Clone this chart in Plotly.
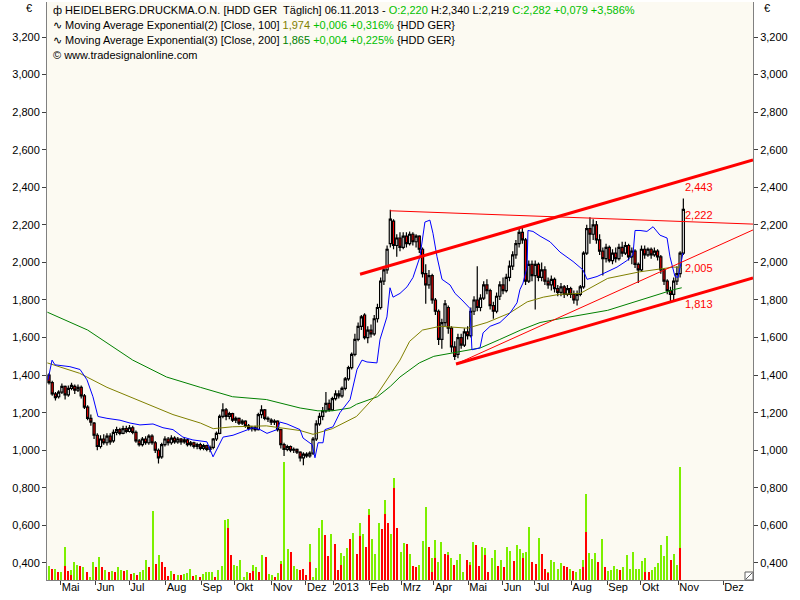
import plotly.graph_objects as go

# ---------------- data ----------------
# candles: one candle per 2 trading days, x = trading-day index
c_open = [1400,1360,1300,1285,1310,1340,1295,1330,1340,1320,1335,1290,1230,1170,1145,1080,1020,1060,1040,1075,
          1050,1095,1110,1090,1115,1100,1120,1095,1050,1030,1060,1040,1075,1040,1000,965,1030,1060,1040,1065,
          1045,1060,1045,1055,1030,1040,1020,1030,1010,1025,1005,1015,1060,1090,1180,1215,1180,1195,1160,1170,
          1145,1155,1130,1115,1120,1110,1190,1215,1170,1160,1150,1155,1110,1030,1005,1020,1000,1005,990,960,
          980,970,985,1060,1140,1180,1210,1250,1215,1275,1300,1290,1330,1380,1440,1510,1590,1660,1720,1600,
          1640,1620,1700,1760,1900,1960,2100,2220,2090,2130,2080,2140,2100,2150,2110,2140,2070,1940,1880,1930,
          1800,1740,1590,1680,1760,1650,1550,1510,1600,1560,1630,1610,1740,1800,1760,1810,1880,1850,1770,1740,
          1820,1880,1850,1920,1980,2040,2100,2160,2120,1900,1990,1930,1990,1920,1960,1900,1880,1910,1860,1840,
          1870,1830,1860,1830,1800,1830,1870,2050,2180,2150,2200,2120,2060,2020,2080,2010,2050,2020,2080,2050,
          2090,2030,2060,1990,1960,2070,2040,2070,2040,2060,2030,1960,1900,1850,1830,1900,1940,2050]
c_close = [1360,1300,1280,1310,1340,1295,1330,1345,1320,1335,1290,1230,1170,1150,1080,1020,1060,1040,1075,1045,
           1095,1110,1090,1115,1100,1120,1095,1050,1030,1060,1040,1075,1040,1000,960,1030,1060,1040,1065,1045,
           1060,1045,1055,1030,1040,1020,1030,1010,1025,1005,1015,1060,1090,1180,1215,1180,1195,1160,1170,1145,
           1155,1130,1115,1120,1110,1190,1215,1170,1165,1150,1155,1110,1030,1005,1020,1000,1005,990,960,980,
           970,985,1060,1140,1180,1210,1250,1215,1275,1300,1290,1330,1380,1440,1510,1590,1660,1710,1600,1640,
           1620,1700,1760,1900,1960,2070,2230,2090,2130,2080,2140,2100,2150,2110,2140,2070,1940,1880,1930,1800,
           1740,1590,1680,1780,1650,1550,1500,1600,1560,1630,1610,1740,1800,1760,1810,1880,1850,1770,1740,1820,
           1880,1850,1920,1980,2040,2100,2160,2120,1900,1990,1930,1990,1920,1960,1900,1880,1910,1860,1840,1870,
           1830,1860,1830,1800,1830,1870,2050,2180,2150,2200,2120,2060,2020,2080,2010,2050,2020,2080,2050,2090,
           2030,2060,1990,1960,2070,2040,2070,2040,2060,2030,1960,1900,1850,1830,1900,1940,2050,2282]
c_high = [1410,1370,1310,1320,1355,1345,1345,1360,1350,1350,1345,1300,1240,1190,1150,1090,1080,1085,1090,1090,
          1110,1125,1120,1130,1130,1135,1130,1105,1060,1070,1075,1085,1085,1050,1010,1040,1075,1070,1080,1075,
          1070,1065,1070,1060,1050,1045,1040,1040,1035,1030,1025,1065,1100,1190,1250,1225,1205,1200,1180,1175,
          1165,1160,1140,1130,1130,1200,1240,1220,1180,1170,1165,1160,1115,1040,1030,1025,1015,1010,995,990,
          990,995,1070,1160,1200,1230,1310,1270,1285,1320,1320,1340,1390,1450,1520,1620,1680,1720,1730,1660,
          1670,1720,1780,1920,1980,2090,2280,2230,2150,2160,2160,2160,2165,2160,2150,2145,2080,1990,1960,1940,
          1810,1750,1700,1800,1770,1660,1580,1620,1620,1650,1660,1760,1820,1980,1830,1900,1910,1860,1790,1840,
          1900,1920,1940,2010,2060,2120,2180,2185,2130,2010,2010,2010,2000,2000,1980,1920,1930,1920,1880,1890,
          1880,1880,1870,1850,1850,1880,2060,2200,2240,2230,2220,2150,2080,2100,2090,2070,2080,2100,2110,2110,
          2100,2080,2070,2000,2090,2090,2080,2080,2080,2070,2040,1970,1910,1870,1920,1980,2060,2340]
c_low = [1350,1290,1265,1275,1300,1270,1285,1320,1300,1310,1275,1220,1160,1130,1060,1000,1010,1030,1025,1030,
         1040,1080,1080,1085,1090,1095,1085,1040,1020,1020,1030,1030,1030,985,930,955,1020,1025,1030,1035,
         1035,1030,1035,1020,1020,1010,1005,1000,1000,995,990,1005,1050,1085,1170,1160,1165,1150,1145,1135,
         1135,1120,1105,1100,1100,1105,1170,1160,1150,1135,1135,1100,1010,970,995,990,985,980,940,920,
         960,960,975,1050,1130,1160,1200,1205,1210,1265,1275,1280,1320,1370,1430,1500,1580,1640,1590,1570,
         1600,1610,1680,1750,1880,1940,2080,2070,2030,2060,2070,2080,2090,2090,2080,2050,1920,1780,1860,1780,
         1720,1560,1540,1660,1620,1520,1480,1490,1540,1550,1590,1600,1720,1740,1740,1800,1830,1750,1700,1730,
         1800,1830,1840,1900,1960,2020,2080,2100,1880,1890,1900,1750,1900,1900,1880,1860,1850,1840,1820,1820,
         1810,1820,1810,1780,1770,1820,1860,2040,2100,2120,2100,2040,1930,2000,2000,1990,2000,2010,2030,2040,
         2010,1990,1970,1890,1950,2020,2030,2020,2030,2010,1940,1880,1830,1790,1800,1880,1920,2040]

# exponential moving averages (read points, trading-day index / price)
ema100_x = [-1, 19, 36, 57, 77, 94, 102, 114, 135, 156, 164, 176, 187, 191, 204, 218, 224, 232, 243, 260, 272, 286, 297, 307, 317, 330, 347, 367, 388, 393]
ema100_y = [1.465, 1.41, 1.335, 1.26, 1.19, 1.145, 1.115, 1.125, 1.13, 1.105, 1.085, 1.115, 1.16, 1.18, 1.30, 1.48, 1.58, 1.64, 1.66, 1.65, 1.68, 1.73, 1.79, 1.815, 1.83, 1.835, 1.915, 1.95, 1.975, 1.974]
ema200_x = [-1, 24, 52, 73, 94, 114, 135, 145, 156, 167, 176, 187, 191, 204, 212, 218, 230, 239, 251, 268, 280, 293, 305, 317, 347, 367, 388, 393]
ema200_y = [1.735, 1.64, 1.48, 1.39, 1.335, 1.285, 1.27, 1.25, 1.225, 1.21, 1.21, 1.225, 1.245, 1.285, 1.34, 1.39, 1.465, 1.50, 1.52, 1.545, 1.59, 1.64, 1.68, 1.70, 1.745, 1.80, 1.855, 1.865]

# blue indicator line
blue_x = [-0.6, 1.9, 3.7, 13.0, 19.3, 23.6, 27.3, 30.4, 36.0, 44.1, 50.3, 56.5, 64.6, 70.8, 77.0, 83.2, 89.4, 98.1, 101.9, 106.2,
          108.1, 114.3, 123.0, 126.7, 131.1, 135.4, 141.6, 143.5, 147.8, 155.9, 157.8, 163.4, 165.2, 167.1, 170.2, 171.4, 176.4, 180.7, 187.0, 191.3,
          194.4, 197.5, 203.7, 205.6, 209.9, 211.8, 213.7, 218.0, 222.4, 226.1, 230.4, 233.5, 236.6, 238.5, 241.0, 244.1, 249.1, 252.2, 256.5, 259.6,
          261.5, 262.7, 267.7, 269.6, 274.0, 280.1, 286.3, 290.7, 292.5, 294.4, 296.9, 297.5, 300.6, 305.0, 311.2, 317.4, 325.5, 331.7, 334.2, 340.4,
          346.6, 352.8, 359.0, 362.7, 364.0, 367.1, 371.4, 375.2, 379.5, 383.9, 385.7, 388.8, 390.7, 393.8]
blue_y = [1.375, 1.48, 1.455, 1.445, 1.43, 1.375, 1.285, 1.18, 1.17, 1.16, 1.145, 1.135, 1.14, 1.12, 1.11, 1.07, 1.055, 1.045, 0.965, 1.04,
          1.07, 1.08, 1.11, 1.12, 1.11, 1.09, 1.11, 1.15, 1.14, 1.11, 1.065, 1.03, 0.96, 1.04, 1.04, 1.11, 1.125, 1.20, 1.27, 1.43,
          1.48, 1.47, 1.465, 1.59, 1.71, 1.865, 1.815, 1.835, 1.87, 1.92, 2.03, 2.215, 2.225, 2.155, 2.03, 1.91, 1.88, 1.835, 1.80, 1.775,
          1.755, 1.535, 1.545, 1.625, 1.66, 1.68, 1.73, 1.785, 1.855, 1.89, 1.975, 2.17, 2.165, 2.14, 2.11, 2.055, 2.005, 1.96, 1.91, 1.925,
          1.95, 1.975, 2.01, 2.04, 2.17, 2.17, 2.165, 2.19, 2.145, 2.13, 2.03, 1.925, 1.92, 2.05]

# trend lines: [x0, x1], [y0, y1]
trend_upper_x, trend_upper_y = [193.2, 437.3], [1.937, 2.546]
trend_lower_x, trend_lower_y = [252.8, 437.3], [1.459, 1.917]
trend_rise_x, trend_rise_y = [252.8, 437.3], [1.459, 2.173]
trend_top_x, trend_top_y = [211.8, 437.3], [2.275, 2.204]
trend_labels = ["2,443", "2,222", "2,005", "1,813"]
trend_label_y = [2.40, 2.255, 1.97, 1.78]

# volume (green part and red part per bar)
vol_green = [0.73,0,0.6,0,0.44,1.76,0,0.55,0.98,0.82, 0,0.67,0,0.18,0.98,0,1.22,0,0.55,0,
             0.5,0,0.67,0.55,0,0.55,0,0.36,0,0.4, 0.55,1.05,0,3.67,0,1.31,0,0,0,0.47,
             0,0.27,0,0.33,0.36,0.6,0,0.25,0,0.31, 0.42,0.44,0.42,0,0.55,0.76,3.22,3.27,0,0.82,
             0.76,1.05,0.18,0.44,0,0.82,0.67,0,1.31,0, 0.31,0.27,0,0.38,1.0,6.27,1.64,0,0.76,0.58,
             0,0,0,1.91,0.18,0.64,2.78,3.22,0,0, 2.45,0,0,1.45,1.27,1.73,0,2.51,0,3.04,
             2.45,0,3.76,2.18,1.36,3.04,0,4.27,0,2.45, 5.45,0,1.49,1.96,0,1.36,0,0,0.82,2.09,
             3.91,0,1.15,2.15,0.95,2.04,0,1.51,1.15,0, 1.04,1.36,0.4,0,0.98,2.0,0,0,1.78,1.7,
             0,1.15,1.58,0,1.04,0,1.76,1.55,0,1.85, 1.67,1.45,1.49,2.82,0,0,2.24,0,0,0.45,
             1.04,0.95,0.6,0.91,0,0,0.6,0,0.4,0.58, 1.04,4.58,1.45,1.13,1.45,0,2.18,0,0.49,0.55,
             0.76,0.6,0,0.67,1.31,0.6,1.49,0.6,0.6,1.0, 1.18,0,0.55,0.67,0.91,1.85,1.27,2.36,0,1.36,
             0.78,6.0]
vol_red = [0,0.6,0,0.4,0,0.73,0.5,0.24,0,0, 0.73,0,0.42,0,0,0.67,0,0.67,0,0.42,
           0,0.4,0,0,0.5,0,0.3,0,0.25,0, 0,0,0.67,0,0.87,0,0.95,0.69,0.22,0,
           0.31,0,0.27,0,0,0,0.22,0,0.18,0, 0,0,0,0.18,0,0,0,2.76,1.31,0,
           0,0,0,0,0.36,0.5,0,0.4,0,1.25, 0,0,0.18,0,0.87,0,0,1.51,0,0,
           0.55,0.58,0.27,0.98,0,0,0,0,2.4,1.27, 0,1.91,0.55,0.82,0,0,2.18,0,1.4,2.36,
           0,1.78,3.45,0,0,0,2.73,3.49,3.04,0, 4.91,2.78,0,0,1.91,0,0.73,0.67,0,0,
           0,1.76,0.45,1.15,0,0,1.36,1.31,0,0.82, 0,0,0,1.09,0.82,0,1.85,0.76,0,1.31,
           0.45,0,0,0.73,0,0.67,0,0,1.0,0, 0,1.15,0,0,0.95,0.87,0,1.36,0.58,0.36,
           0,0,0,0,0.73,0.69,0,0.49,0,0, 0.67,2.58,0,0,0,0.95,0,0.67,0,0,
           0,0,0.55,0,0,0,0,0,0,0, 0.45,0.4,0,0,0,0,0,0,1.09,0,
           0,1.69]

# axis ticks
month_pos = [7.3, 29.0, 49.9, 72.5, 94.8, 115.5, 138.3, 159.6, 176.6, 198.9, 219.1, 239.1, 260.4, 281.8, 301.4, 324.4, 346.8, 367.7, 390.9, 418.8]
month_labels = ["Mai", "Jun", "Jul", "Aug", "Sep", "Okt", "Nov", "Dez", "2013", "Feb", "Mrz", "Apr", "Mai", "Jun", "Jul", "Aug", "Sep", "Okt", "Nov", "Dez"]
price_ticks = [0.4, 0.6, 0.8, 1.0, 1.2, 1.4, 1.6, 1.8, 2.0, 2.2, 2.4, 2.6, 2.8, 3.0, 3.2]
price_labels = ["0,400", "0,600", "0,800", "1,000", "1,200", "1,400", "1,600", "1,800", "2,000", "2,200", "2,400", "2,600", "2,800", "3,000", "3,200"]

# ---------------- figure ----------------
W, H = 800, 600
ML, MR, MT, MB = 47, 47, 2, 20
PRICE_RANGE = [0.3094, 3.3863]
VOL_RANGE = [0, 30.77]
X_RANGE = [-1.24, 437.27]

cx = [2 * k for k in range(len(c_close))]
vx = [i * 392 / (len(vol_green) - 1) for i in range(len(vol_green))]

FONT = "Liberation Sans, Arial, sans-serif"
fig = go.Figure()

fig.add_trace(go.Bar(x=vx, y=vol_green, yaxis="y", marker=dict(color="#7CF000", line=dict(width=0)),
                     width=0.75, hoverinfo="skip", showlegend=False))
fig.add_trace(go.Bar(x=vx, y=vol_red, yaxis="y", marker=dict(color="#FF0000", line=dict(width=0)),
                     width=0.75, hoverinfo="skip", showlegend=False))

fig.add_trace(go.Scatter(x=ema200_x, y=ema200_y, yaxis="y2", mode="lines",
                         line=dict(color="#008000", width=1), hoverinfo="skip", showlegend=False))
fig.add_trace(go.Scatter(x=ema100_x, y=ema100_y, yaxis="y2", mode="lines",
                         line=dict(color="#808000", width=1), hoverinfo="skip", showlegend=False))
fig.add_trace(go.Scatter(x=blue_x, y=blue_y, yaxis="y2", mode="lines",
                         line=dict(color="#0000FF", width=1), hoverinfo="skip", showlegend=False))

fig.add_trace(go.Candlestick(
    x=cx, open=[v / 1000 for v in c_open], high=[v / 1000 for v in c_high],
    low=[v / 1000 for v in c_low], close=[v / 1000 for v in c_close], yaxis="y2",
    increasing=dict(line=dict(color="black", width=1.2), fillcolor="white"),
    decreasing=dict(line=dict(color="black", width=1.2), fillcolor="#FF0000"),
    whiskerwidth=0, hoverinfo="skip", showlegend=False))

for tx, ty, wd in [(trend_upper_x, trend_upper_y, 3), (trend_lower_x, trend_lower_y, 3),
                   (trend_rise_x, trend_rise_y, 1), (trend_top_x, trend_top_y, 1)]:
    fig.add_trace(go.Scatter(x=tx, y=ty, yaxis="y2", mode="lines",
                             line=dict(color="#FF0000", width=wd), hoverinfo="skip", showlegend=False))

fig.add_trace(go.Scatter(x=[0], y=[1], yaxis="y3", mode="markers", marker=dict(opacity=0),
                         hoverinfo="skip", showlegend=False))

for lab, ly in zip(trend_labels, trend_label_y):
    fig.add_annotation(x=cx[-1] - 0.5, y=ly, xref="x", yref="y2", text=lab, showarrow=False,
                       xanchor="left", yanchor="middle", font=dict(family=FONT, size=11, color="#FF0000"))

def px_to_paper_x(px):
    return (px - ML) / (W - ML - MR)

def px_to_paper_y(py):
    return (H - MB - py) / (H - MT - MB)

G = "#00C000"
legend_lines = [
    ("ф HEIDELBERG.DRUCKMA.O.N. [HDD GER\u00a0 Täglich] 06.11.2013 - "
     f"<span style='color:{G}'>O:2,220</span> H:2,340 L:2,219 "
     f"<span style='color:{G}'>C:2,282 +0,079 +3,586%</span>", 10),
    ("∿ Moving Average Exponential(2) [Close, 100] <span style='color:#808000'>1,974</span> "
     f"<span style='color:{G}'>+0,006 +0,316%</span> {{HDD GER}}", 25),
    ("∿ Moving Average Exponential(3) [Close, 200] <span style='color:#008000'>1,865</span> "
     f"<span style='color:{G}'>+0,004 +0,225%</span> {{HDD GER}}", 40),
    ("© www.tradesignalonline.com", 55),
]
for txt, py in legend_lines:
    fig.add_annotation(x=px_to_paper_x(51), y=px_to_paper_y(py), xref="paper", yref="paper",
                       text=txt, showarrow=False, xanchor="left", yanchor="middle",
                       font=dict(family=FONT, size=11, color="black"))

for pxx in (29, 767):
    fig.add_annotation(x=px_to_paper_x(pxx), y=px_to_paper_y(8), xref="paper", yref="paper",
                       text="€", showarrow=False, xanchor="center", yanchor="middle",
                       font=dict(family=FONT, size=11, color="black"))

# small resize glyph in the lower-right corner of the plot
fig.add_shape(type="rect", xref="paper", yref="paper",
              x0=px_to_paper_x(745), x1=px_to_paper_x(753), y0=px_to_paper_y(580), y1=px_to_paper_y(572),
              line=dict(color="#606060", width=1), fillcolor="white")
fig.add_shape(type="line", xref="paper", yref="paper",
              x0=px_to_paper_x(746), x1=px_to_paper_x(752), y0=px_to_paper_y(579), y1=px_to_paper_y(573),
              line=dict(color="#606060", width=1))

price_axis = dict(range=PRICE_RANGE, tickvals=price_ticks, ticktext=price_labels, ticks="outside",
                  ticklen=4, tickcolor="#404040", showline=True, linecolor="#808080", linewidth=1,
                  showgrid=False, zeroline=False, tickfont=dict(family=FONT, size=11, color="black"),
                  overlaying="y", fixedrange=True)

fig.update_layout(
    width=W, height=H, margin=dict(l=ML, r=MR, t=MT, b=MB),
    paper_bgcolor="white", plot_bgcolor="#FCFAF2",
    barmode="overlay", bargap=0, boxgap=0.05,
    xaxis=dict(range=X_RANGE, tickvals=month_pos, ticktext=month_labels, ticks="outside", ticklen=4,
               tickcolor="#404040", ticklabelposition="outside right", tickangle=0,
               ticklabelstandoff=-3, showline=True, linecolor="#808080",
               linewidth=1, showgrid=False, zeroline=False, rangeslider=dict(visible=False),
               tickfont=dict(family=FONT, size=11, color="black"), fixedrange=True),
    yaxis=dict(range=VOL_RANGE, visible=False, fixedrange=True),
    yaxis2=dict(side="left", **price_axis),
    yaxis3=dict(side="right", **price_axis),
    font=dict(family=FONT, size=11, color="black"),
)

fig.write_html("out.html", config={"displayModeBar": False},
               post_script="document.body.style.margin='0';")
